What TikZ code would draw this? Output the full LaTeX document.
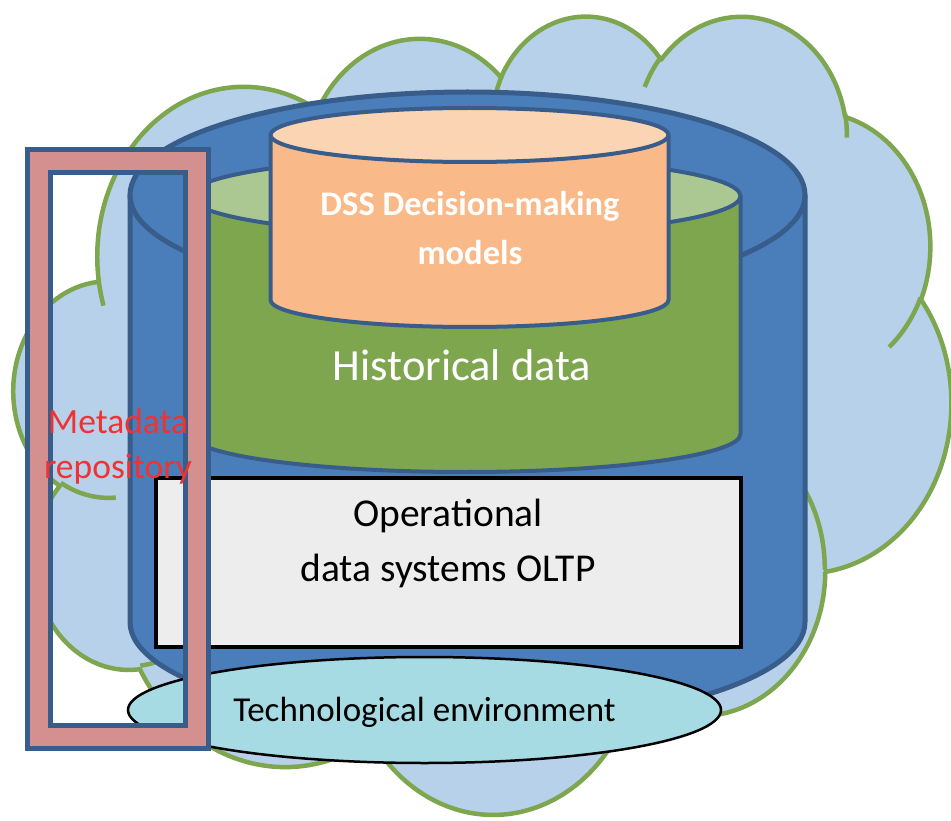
\documentclass[tikz,border=0pt]{standalone}
\usepackage{fontspec}
\setmainfont{Carlito}
\definecolor{cloudfill}{HTML}{B7D1EA}
\definecolor{cloudline}{HTML}{7EA64F}
\definecolor{cylblue}{HTML}{4A7EBB}
\definecolor{cylline}{HTML}{385D8A}
\definecolor{greenside}{HTML}{7EA64F}
\definecolor{greentop}{HTML}{ABC893}
\definecolor{orside}{HTML}{F9B989}
\definecolor{ortop}{HTML}{FBD4B4}
\definecolor{oltpgray}{HTML}{EDEDED}
\definecolor{techcyan}{HTML}{A7DBE4}
\definecolor{metapink}{HTML}{D48F8F}
\definecolor{metared}{HTML}{F03232}
\def\SX{21.690}\def\SY{18.472}\def\OX{14}\def\OY{14}
\newcommand{\cmove}[2]{\pgfpathmoveto{\pgfpoint{(\OX+#1*\SX)*1pt}{-(\OY+#2*\SY)*1pt}}}
\newcommand{\carc}[4]{%
  \pgfmathsetmacro{\cta}{atan2((#1)*sin(#3),(#2)*cos(#3))}%
  \pgfmathsetmacro{\ctb}{atan2((#1)*sin((#3)+(#4)),(#2)*cos((#3)+(#4)))}%
  \pgfmathsetmacro{\ctd}{\ctb-(\cta)}%
  \pgfmathsetmacro{\ctd}{\ctd+360*(\ctd<0)}%
  \pgfmathsetmacro{\csa}{-1*(\cta)}%
  \pgfmathsetmacro{\cea}{\csa-\ctd}%
  \pgfmathsetmacro{\crx}{(#1)*\SX}%
  \pgfmathsetmacro{\cry}{(#2)*\SY}%
  \pgfpatharc{\csa}{\cea}{\crx pt and \cry pt}%
}
\tikzset{
  cylout/.style={draw=cylline, line width=5pt, line join=round},
  cylin/.style={draw=cylline, line width=4pt, line join=round},
  oltpbox/.style={draw=black, line width=4pt, fill=oltpgray},
  techell/.style={draw=black, line width=2.5pt, fill=techcyan},
  txt/.style={anchor=base, inner sep=0pt},
}
\begin{document}
\begin{tikzpicture}[x=1pt,y=1pt]
\useasboundingbox (0,0) rectangle (951,-821);
% cloud
\begin{pgfscope}
\pgfsetfillcolor{cloudfill}\pgfsetstrokecolor{cloudline}\pgfsetlinewidth{4.5pt}\pgfsetroundjoin
\cmove{3.900}{14.370}
\carc{6.753}{9.190}{-190.48748}{123.78053}
\carc{5.333}{7.267}{-144.10238}{89.94523}
\carc{4.365}{5.945}{-145.80792}{99.72302}
\carc{4.857}{6.595}{-130.98607}{117.24173}
\carc{5.333}{7.273}{-78.70888}{109.02692}
\carc{6.775}{9.220}{-46.26725}{130.269}
\carc{5.785}{7.867}{0.62502}{114.03333}
\carc{6.752}{9.215}{22.4516}{115.17255}
\carc{7.720}{10.543}{66.24263}{75.71102}
\carc{4.360}{5.918}{-274.94208}{146.73557}
\carc{4.345}{5.945}{-246.8285}{152.51885}
\pgfpathclose
\pgfusepath{fill,stroke}
\cmove{4.693}{26.177}\carc{4.345}{5.945}{86.742}{26.4295}
\cmove{6.928}{34.899}\carc{4.360}{5.918}{73.61047}{11.44747}
\cmove{16.478}{39.090}\carc{6.752}{9.215}{137.62415}{14.0811}
\cmove{28.827}{34.751}\carc{6.752}{9.215}{6.45327}{15.99835}
\cmove{34.129}{22.954}\carc{5.785}{7.867}{-70.29235}{70.91737}
\cmove{41.798}{15.354}\carc{5.333}{7.273}{30.31803}{27.7515}
\cmove{38.324}{5.426}\carc{4.857}{6.595}{-13.74433}{14.8589}
\cmove{29.078}{3.952}\carc{4.857}{6.595}{-149.18145}{18.19537}
\cmove{22.141}{4.720}\carc{4.365}{5.945}{-163.49427}{17.68635}
\cmove{14.000}{5.192}\carc{6.753}{9.190}{-66.70695}{12.31935}
\cmove{4.127}{15.789}\carc{6.753}{9.190}{157.65435}{11.85817}
\pgfusepath{stroke}
\end{pgfscope}
% blue cylinder
\path[cylout, fill=cylblue] (130,-195) -- (130,-622) arc[start angle=180,end angle=360,x radius=337.5,y radius=103] -- (805,-195) -- cycle;
\path[cylout, fill=cylblue] (467.5,-195) ellipse[x radius=337.5,y radius=103];
% green cylinder
\path[cylin, fill=greenside] (190,-196) -- (190,-434) arc[start angle=180,end angle=360,x radius=275.25,y radius=38] -- (740.5,-196) -- cycle;
\path[cylin, fill=greentop] (465.25,-196) ellipse[x radius=275.25,y radius=39];
% orange cylinder
\path[cylin, fill=orside] (270.5,-135) -- (270.5,-300) arc[start angle=180,end angle=360,x radius=199,y radius=27] -- (668.5,-135) -- cycle;
\path[cylin, fill=ortop] (469.5,-135) ellipse[x radius=199,y radius=27];
\node[txt, text=white, font=\bfseries\fontsize{34.5}{40}\selectfont] (dss1) at (470,-216) {DSS Decision-making};
\node[txt, text=white, font=\bfseries\fontsize{34.5}{40}\selectfont] (dss2) at (470,-265) {models};
\node[txt, text=white, font=\fontsize{44.5}{50}\selectfont] (hist) at (462,-380) {Historical data};
% OLTP box
\draw[oltpbox] (155.5,-477.5) rectangle (740.5,-646.5);
\node[txt, font=\fontsize{39.5}{45}\selectfont] (op1) at (448,-526) {Operational};
\node[txt, font=\fontsize{39.5}{45}\selectfont] (op2) at (448,-581) {data systems OLTP};
% technological environment
\path[techell] (424.5,-710) ellipse[x radius=296.5,y radius=53];
\node[txt, font=\fontsize{35}{40}\selectfont] (tech) at (424.5,-721) {Technological environment};
% metadata frame
\draw[cylline, line width=28pt] (39,-161.5) rectangle (197,-736.5);
\draw[metapink, line width=18pt] (39,-161.5) rectangle (197,-736.5);
\node[txt, text=metared, font=\fontsize{35.5}{40}\selectfont] (meta1) at (118,-433) {Metadata};
\node[txt, text=metared, font=\fontsize{35.5}{40}\selectfont] (meta2) at (118,-478) {repository};
\end{tikzpicture}
\end{document}
